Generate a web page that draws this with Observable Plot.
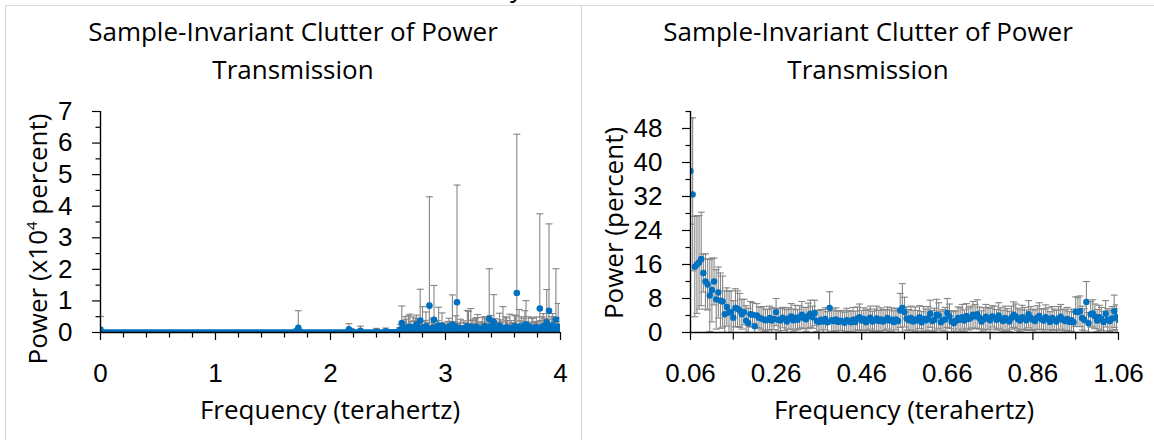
<!DOCTYPE html>
<html><head><meta charset="utf-8">
<script src="https://cdn.jsdelivr.net/npm/d3@7"></script>
<script src="https://cdn.jsdelivr.net/npm/@observablehq/plot@0.6"></script>
<style>
html,body{margin:0;padding:0;background:#fff;}
#page{position:relative;width:1154px;height:440px;overflow:hidden;font-family:"Open Sans",sans-serif;color:#000;}
.abs{position:absolute;white-space:nowrap;}
.title{font-size:26px;line-height:38px;text-align:center;}
.xlab{font-size:26px;line-height:38px;transform:translateX(-50%);}
.ylab{font-size:26px;line-height:30px;transform:translate(-50%,-50%) rotate(-90deg);}
.ylab sup{font-size:15px;line-height:0;vertical-align:10px;}
.hline{position:absolute;height:1px;background:#d9d9d9;}
.vline{position:absolute;width:1px;background:#d9d9d9;}
.plot{position:absolute;}
</style></head>
<body><div id="page"></div>
<script>
// ---------------- data ----------------
const suptitle = "Two External System with Main Scale = 1";
const panelTitle = ["Sample-Invariant  Clutter of Power", "Transmission"];
const xTitle = "Frequency (terahertz)";
const leftYTitleParts = ["Power (x10", "4", " percent)"];
const rightYTitle = "Power (percent)";

// Left panel: power in x10^4 percent, frequency grid 0..4 THz (0.02 THz bins)
const leftStartTHz = 0, leftStepTHz = 0.02;
const leftPower = [
 0.09,0,0,0,0,0,0,0,0,0,
 0,0,0,0,0,0,0,0,0,0,
 0,0,0,0,0,0,0,0,0,0,
 0,0,0,0,0,0,0,0,0,0,
 0,0,0,0,0,0,0,0,0,0,
 0,0,0,0,0,0,0,0,0,0,
 0,0,0,0,0,0,0,0,0,0,
 0,0,0,0,0,0,0,0,0,0,
 0,0,0,0,0,0.04,0.15,0.02,0,0,
 0,0,0,0,0,0,0,0,0,0,
 0,0,0,0,0,0,0,0,0.10,0.03,
 0,0,0,0.05,0,0,0,0,0,0,
 0.02,0,0,0,0.04,0.01,0.01,0.01,0.01,0.01,
 0.05,0.30,0.08,0.12,0.06,0.15,0.12,0.20,0.10,0.38,
 0.15,0.08,0.12,0.85,0.10,0.40,0.06,0.22,0.10,0.05,
 0.10,0.15,0.20,0.25,0.08,0.96,0.10,0.05,0.12,0.08,
 0.12,0.18,0.10,0.15,0.12,0.10,0.08,0.20,0.10,0.43,
 0.10,0.33,0.05,0.08,0.10,0.12,0.15,0.08,0.12,0.10,
 0.20,1.25,0.18,0.10,0.15,0.25,0.20,0.12,0.10,0.08,
 0.05,0.76,0.10,0.15,0.32,0.69,0.20,0.10,0.41,0.18,
 0.05
];
const leftErr = [
 0.42,0,0,0,0,0,0,0,0,0,
 0,0,0,0,0,0,0,0,0,0,
 0,0,0,0,0,0,0,0,0,0,
 0,0,0,0,0,0,0,0,0,0,
 0,0,0,0,0,0,0,0,0,0,
 0,0,0,0,0,0,0,0,0,0,
 0,0,0,0,0,0,0,0,0,0,
 0,0,0,0,0,0,0.01,0.01,0.02,0.02,
 0.02,0.02,0.03,0.03,0.05,0.06,0.54,0.03,0.02,0.02,
 0.02,0.02,0.02,0.02,0.02,0.02,0.02,0.02,0.02,0.02,
 0.02,0.02,0.02,0.02,0.02,0.02,0.02,0.02,0.18,0.10,
 0.02,0.02,0.02,0.15,0.02,0.02,0.02,0.02,0.02,0.02,
 0.11,0.03,0.03,0.03,0.10,0.05,0.05,0.05,0.05,0.05,
 0.10,0.54,0.20,0.30,0.47,0.20,0.37,0.24,0.25,0.99,
 0.67,0.30,0.20,3.45,0.30,1.09,0.20,0.58,0.15,0.20,
 0.12,0.20,0.15,0.94,0.25,3.71,0.20,0.15,0.25,0.20,
 0.55,0.58,0.30,0.30,0.45,0.20,0.40,0.30,0.20,1.59,
 0.25,0.87,0.20,0.25,0.30,0.70,0.35,0.30,0.46,0.20,
 0.35,5.03,0.55,0.40,0.30,0.76,0.30,0.20,0.37,0.25,
 0.30,3.00,0.40,0.30,1.04,2.75,0.30,0.20,1.61,0.74,
 0.30
];
// Left panel, in-between bins of the dense 2.61..3.99 THz band
const leftBandStartTHz = 2.61, leftBandStepTHz = 0.02;
const leftBandPower = [
 0.10,0.05,0.15,0.08,0.18,0.06,0.12,0.25,0.09,0.14,
 0.07,0.20,0.11,0.05,0.16,0.09,0.13,0.06,0.22,0.10,
 0.08,0.15,0.12,0.05,0.18,0.09,0.14,0.07,0.11,0.20,
 0.06,0.13,0.09,0.17,0.08,0.12,0.05,0.15,0.10,0.19,
 0.07,0.14,0.09,0.21,0.11,0.06,0.16,0.08,0.13,0.10,
 0.18,0.07,0.12,0.09,0.24,0.11,0.06,0.15,0.10,0.17,
 0.08,0.13,0.20,0.09,0.14,0.06,0.22,0.12,0.16,0.08
];
const leftBandErr = [
 0.15,0.20,0.35,0.18,0.40,0.12,0.25,0.30,0.20,0.22,
 0.15,0.45,0.20,0.12,0.30,0.18,0.25,0.15,0.40,0.20,
 0.18,0.30,0.22,0.12,0.35,0.20,0.28,0.15,0.20,0.50,
 0.15,0.25,0.20,0.30,0.18,0.22,0.12,0.28,0.20,0.35,
 0.15,0.30,0.20,0.40,0.22,0.15,0.30,0.18,0.25,0.20,
 0.35,0.15,0.25,0.20,0.45,0.22,0.15,0.30,0.20,0.32,
 0.18,0.25,0.40,0.20,0.28,0.15,0.38,0.22,0.30,0.18
];

// Right panel: power in percent, frequency grid 0.06..1.06 THz (0.005 THz bins)
const rightStartTHz = 0.06, rightStepTHz = 0.005;
const rightPower = [
 38.0,32.5,15.5,16.0,16.5,17.3,14.0,12.0,11.3,8.7,
 10.0,12.0,7.8,9.4,7.5,7.3,4.3,6.0,4.7,4.8,
 3.5,5.8,5.6,5.2,4.3,4.8,2.8,2.2,4.3,4.2,
 1.5,4.0,3.5,3.3,3.1,2.9,3.0,3.4,2.8,3.2,
 4.8,3.0,2.8,3.5,3.2,2.6,3.3,3.8,2.9,3.5,
 3.0,3.6,4.2,3.4,3.1,3.9,4.4,3.6,4.6,2.7,
 2.5,3.0,2.6,3.2,2.4,5.8,2.9,2.7,3.1,2.5,
 2.8,2.6,2.3,2.9,2.7,2.4,3.0,2.5,3.3,3.6,
 2.8,3.2,2.4,3.0,3.5,2.6,2.9,3.3,2.7,3.1,
 2.6,2.9,3.4,2.8,3.0,2.5,3.1,2.7,5.2,5.8,
 4.8,3.3,2.9,3.4,2.6,3.1,2.8,3.6,2.4,3.2,
 2.9,3.3,4.4,2.7,3.0,4.2,4.0,2.4,2.9,3.1,
 4.6,3.8,2.6,2.2,2.7,3.4,3.0,3.6,2.8,3.9,
 3.2,3.5,4.2,3.8,4.3,3.4,2.6,3.1,3.7,3.3,
 2.9,3.8,3.5,3.0,4.0,3.2,2.7,3.4,3.0,2.6,
 3.5,4.2,3.8,3.1,2.8,3.6,3.3,2.9,4.3,3.4,
 3.0,2.7,3.5,3.9,3.1,2.8,3.6,3.2,2.5,3.4,
 3.0,2.6,3.3,3.7,3.0,2.7,3.2,2.5,2.9,2.4,
 4.9,4.8,5.0,3.4,3.0,7.2,2.2,4.3,4.5,3.8,
 2.8,3.6,3.2,2.5,4.4,3.0,2.7,3.3,5.0,3.6,
 3.0
];
const rightErr = [
 12.5,18.0,11.8,11.5,11.0,11.0,4.5,6.5,6.0,8.5,
 7.5,5.5,7.0,6.0,6.5,6.0,5.5,4.5,5.0,5.0,
 4.0,4.5,4.2,4.0,3.5,3.0,3.5,3.5,3.0,2.8,
 3.0,2.8,2.5,2.7,3.0,2.6,2.4,2.8,3.0,2.5,
 3.2,2.6,2.9,2.4,2.7,2.8,2.5,3.0,2.6,2.9,
 2.4,2.7,3.1,2.5,2.8,3.0,3.2,2.6,3.0,2.5,
 2.7,2.4,2.8,2.6,2.5,3.8,2.6,2.4,2.7,2.5,
 2.3,2.6,2.5,2.8,2.4,2.6,2.9,2.5,2.7,3.1,
 2.4,2.6,2.8,2.5,2.7,2.4,2.6,2.9,2.5,2.7,
 2.8,2.4,2.6,2.5,2.8,2.6,2.5,3.0,4.0,5.7,
 3.5,2.7,2.5,2.8,2.6,2.9,2.4,2.7,2.5,2.9,
 2.6,2.8,3.2,2.5,2.7,3.6,3.0,2.6,2.5,2.8,
 3.4,2.9,2.5,2.7,2.4,2.6,2.8,3.0,2.5,2.9,
 2.6,2.7,3.1,2.8,3.4,2.6,2.5,2.7,2.9,2.6,
 2.8,2.5,2.7,2.4,3.0,2.6,2.5,2.8,2.6,2.4,
 2.7,3.0,2.9,2.6,2.5,2.8,2.6,2.4,3.2,2.7,
 2.5,2.6,2.8,3.1,2.5,2.7,2.9,2.6,2.4,2.7,
 2.5,2.6,2.8,2.9,2.5,2.6,2.7,2.4,2.6,2.5,
 3.5,3.4,3.6,2.8,2.6,4.8,2.5,3.0,3.2,2.9,
 2.6,2.8,2.7,2.5,3.1,2.6,2.5,2.8,3.8,2.9,
 2.6
];

// axis ticks
const leftXTicks = [0, 1, 2, 3, 4];
const leftXMinor = [0.2,0.4,0.6,0.8,1.2,1.4,1.6,1.8,2.2,2.4,2.6,2.8,3.2,3.4,3.6,3.8];
const leftYTicks = [0, 1, 2, 3, 4, 5, 6, 7];
const leftYMinor = [0.5, 1.5, 2.5, 3.5, 4.5, 5.5, 6.5];
const rightXTicks = [0.06, 0.26, 0.46, 0.66, 0.86, 1.06];
const rightXMinor = [0.16, 0.36, 0.56, 0.76, 0.96];
const rightYTicks = [0, 8, 16, 24, 32, 40, 48];
const rightYMinor = [4, 12, 20, 28, 36, 44, 52];

// ---------------- drawing ----------------
const BLUE = "#0070C0", BAR = "#868686", TICKFONT = "'Liberation Sans', Arial, sans-serif";
const page = document.getElementById("page");
function el(cls, css, html) {
  const d = document.createElement("div");
  d.className = cls; d.style.cssText = css; d.innerHTML = html; page.appendChild(d); return d;
}
// pixel-sized glyphs: horizontal error-bar cap, leftward tick, downward tick
const capSymbol = { draw(ctx, size) { const w = Math.sqrt(size / Math.PI); ctx.moveTo(-w, 0); ctx.lineTo(w, 0); } };
const leftTick = { draw(ctx, size) { const w = Math.sqrt(size / Math.PI); ctx.moveTo(-w, 0); ctx.lineTo(0, 0); } };
const downTick = { draw(ctx, size) { const w = Math.sqrt(size / Math.PI); ctx.moveTo(0, 0); ctx.lineTo(0, w); } };

function toRows(start, step, power, err) {
  return power.map((v, i) => ({ f: +(start + i * step).toFixed(4), v, e: err[i] }));
}

function panel(o) {
  const rows = o.series.flatMap(s => toRows(s.start, s.step, s.power, s.err)).sort((a, b) => a.f - b.f);
  const x0 = o.xDomain[0];
  return Plot.plot({
    width: o.width, height: o.height,
    marginLeft: o.ml, marginRight: o.mr, marginTop: o.mt, marginBottom: o.mb,
    style: { fontFamily: TICKFONT, fontSize: "26px", color: "#000", background: "transparent", overflow: "visible" },
    x: { domain: o.xDomain },
    y: { domain: o.yDomain },
    marks: [
      Plot.ruleX(rows, { x: "f", y1: d => d.v - d.e, y2: d => d.v + d.e, stroke: BAR, strokeWidth: 1.1, clip: true }),
      Plot.dot(rows, { x: "f", y: d => d.v + d.e, symbol: capSymbol, r: 3.5, stroke: BAR, strokeWidth: 1.1, fill: "none", clip: true }),
      Plot.dot(rows, { x: "f", y: d => d.v - d.e, symbol: capSymbol, r: 3.5, stroke: BAR, strokeWidth: 1.1, fill: "none", clip: true }),
      Plot.dot(rows, { x: "f", y: "v", r: o.r, fill: BLUE, stroke: "none", clip: true }),
      Plot.dot(o.yMinor, { x: () => x0, y: d => d, symbol: leftTick, r: 5, stroke: "#000", strokeWidth: 1.2 }),
      Plot.dot(o.xMinor, { x: d => d, y: () => 0, symbol: downTick, r: o.minorX, stroke: "#000", strokeWidth: 1.2 }),
      Plot.axisY({ ticks: o.yTicks, tickSize: 8, tickPadding: 20, label: null, stroke: "#000", strokeWidth: 1.2, fill: "#000", fontSize: 26, tickFormat: d => String(d) }),
      Plot.axisX({ ticks: o.xTicks, tickSize: 8, tickPadding: 23, label: null, stroke: "#000", strokeWidth: 1.2, fill: "#000", fontSize: 26, tickFormat: o.xFmt }),
      Plot.ruleX([x0], { stroke: "#000", strokeWidth: 1.4 }),
      Plot.ruleY([0], { stroke: "#000", strokeWidth: 1.4 })
    ]
  });
}

// frame lines and suptitle
el("abs title", "left:0;width:1154px;top:-32px;", suptitle);
el("hline", "left:5px;top:5px;width:1149px;", "");
el("vline", "left:5px;top:5px;height:435px;", "");
el("vline", "left:581px;top:5px;height:435px;", "");

// left panel
el("abs title", "left:5px;width:576px;top:12px;", panelTitle[0] + "<br>" + panelTitle[1]);
const left = panel({
  series: [
    { start: leftStartTHz, step: leftStepTHz, power: leftPower, err: leftErr },
    { start: leftBandStartTHz, step: leftBandStepTHz, power: leftBandPower, err: leftBandErr }
  ],
  width: 576, height: 345, ml: 95, mr: 21, mt: 16, mb: 108,
  xDomain: [0, 4], yDomain: [0, 7], r: 3.3,
  xTicks: leftXTicks, xMinor: leftXMinor, yTicks: leftYTicks, yMinor: leftYMinor, minorX: 5,
  xFmt: d => String(d)
});
left.classList.add("plot"); left.style.left = "5px"; left.style.top = "95px";
page.appendChild(left);
el("abs xlab", "left:330px;top:390px;", xTitle);
el("abs ylab", "left:37px;top:239px;", leftYTitleParts[0] + "<sup>" + leftYTitleParts[1] + "</sup>" + leftYTitleParts[2]);

// right panel
el("abs title", "left:582px;width:572px;top:12px;", panelTitle[0] + "<br>" + panelTitle[1]);
const right = panel({
  series: [{ start: rightStartTHz, step: rightStepTHz, power: rightPower, err: rightErr }],
  width: 572, height: 345, ml: 108, mr: 36, mt: 16, mb: 108,
  xDomain: [0.06, 1.06], yDomain: [0, 52], r: 3.2,
  xTicks: rightXTicks, xMinor: rightXMinor, yTicks: rightYTicks, yMinor: rightYMinor, minorX: 7,
  xFmt: d => d.toFixed(2)
});
right.classList.add("plot"); right.style.left = "582px"; right.style.top = "95px";
page.appendChild(right);
el("abs xlab", "left:904px;top:390px;", xTitle);
el("abs ylab", "left:613px;top:223px;", rightYTitle);
</script>
</body></html>
